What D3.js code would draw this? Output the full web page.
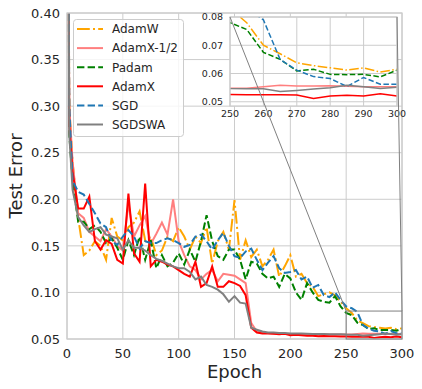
<!DOCTYPE html>
<html>
<head>
<meta charset="utf-8">
<script src="https://cdn.jsdelivr.net/npm/d3@7"></script>
<style>
  body { margin: 0; background: #ffffff; }
  svg text { font-family: "DejaVu Sans", sans-serif; fill: #262626; }
</style>
</head>
<body>
<div id="chart"></div>
<script>
// Epochs at which the test error was sampled
var epochs = [0, 2, 5,
  10, 15, 20, 25, 30, 35, 40, 45,
  50, 55, 60, 65, 70, 75, 80, 85, 90, 95,
  100, 105, 110, 115, 120, 125, 130, 135, 140, 145,
  150, 155, 160, 165, 170, 175, 180, 185, 190, 195,
  200, 205, 210, 215, 220, 225, 230, 235, 240, 245,
  250, 255, 260, 265, 270, 275, 280, 285, 290, 295,
  300];

var adamW = [0.9, 0.3, 0.24,
  0.18, 0.14, 0.145, 0.155, 0.15, 0.135, 0.18, 0.16,
  0.156, 0.17, 0.175, 0.187, 0.156, 0.16, 0.14, 0.145, 0.16, 0.155,
  0.17, 0.16, 0.146, 0.16, 0.153, 0.17, 0.131, 0.155, 0.165, 0.146,
  0.199, 0.135, 0.156, 0.138, 0.146, 0.128, 0.135, 0.146, 0.117, 0.128,
  0.14, 0.117, 0.12, 0.11, 0.106, 0.096, 0.098, 0.1, 0.097, 0.09,
  0.083, 0.078, 0.07, 0.067, 0.0638, 0.0628, 0.062, 0.0612, 0.062, 0.0605,
  0.0615];

var adamXHalf = [0.9, 0.3, 0.24,
  0.185, 0.18, 0.165, 0.16, 0.155, 0.168, 0.16, 0.15,
  0.145, 0.195, 0.16, 0.172, 0.182, 0.152, 0.163, 0.175, 0.162, 0.2,
  0.155, 0.14, 0.128, 0.124, 0.114, 0.12, 0.124, 0.112, 0.12, 0.119,
  0.118, 0.114, 0.11, 0.067, 0.058, 0.057, 0.0565, 0.056, 0.056, 0.0555,
  0.0555, 0.055, 0.055, 0.055, 0.0548, 0.0548, 0.055, 0.0548, 0.0548, 0.0548,
  0.0548, 0.0548, 0.0553, 0.0558, 0.0556, 0.0556, 0.0557, 0.0555, 0.0553, 0.0553,
  0.0553];

var padam = [0.9, 0.27, 0.22,
  0.176, 0.176, 0.168, 0.172, 0.165, 0.153, 0.158, 0.148,
  0.135, 0.156, 0.14, 0.16, 0.135, 0.156, 0.126, 0.14, 0.128, 0.132,
  0.142, 0.13, 0.146, 0.133, 0.155, 0.183, 0.155, 0.139, 0.135, 0.146,
  0.146, 0.135, 0.114, 0.133, 0.131, 0.12, 0.115, 0.117, 0.106, 0.12,
  0.115, 0.1, 0.092, 0.11, 0.1, 0.092, 0.09, 0.089, 0.096, 0.085,
  0.078, 0.0756, 0.0675, 0.065, 0.0609, 0.0615, 0.0597, 0.0596, 0.0597, 0.0588,
  0.0612];

var adamX = [0.85, 0.28, 0.23,
  0.19, 0.19, 0.203, 0.155, 0.146, 0.156, 0.152, 0.135,
  0.131, 0.206, 0.142, 0.133, 0.217, 0.128, 0.135, 0.133, 0.13, 0.128,
  0.124, 0.12, 0.117, 0.133, 0.106, 0.11, 0.128, 0.106, 0.106, 0.112,
  0.11, 0.107, 0.097, 0.062, 0.057, 0.056, 0.056, 0.0555, 0.055, 0.0555,
  0.054, 0.0545, 0.054, 0.0535, 0.0535, 0.053, 0.0532, 0.053, 0.053, 0.0528,
  0.0526, 0.0525, 0.0525, 0.0525, 0.0524, 0.0512, 0.052, 0.0523, 0.052, 0.0528,
  0.052];

var sgd = [0.9, 0.3, 0.22,
  0.208, 0.205, 0.195, 0.185, 0.174, 0.17, 0.155, 0.151,
  0.16, 0.167, 0.16, 0.147, 0.155, 0.153, 0.153, 0.156, 0.158, 0.156,
  0.153, 0.149, 0.151, 0.16, 0.162, 0.155, 0.146, 0.156, 0.164, 0.15,
  0.139, 0.137, 0.144, 0.147, 0.135, 0.124, 0.132, 0.139, 0.126, 0.121,
  0.122, 0.124, 0.114, 0.117, 0.105, 0.108, 0.097, 0.095, 0.1, 0.092,
  0.085, 0.083, 0.079, 0.065, 0.0612, 0.0589, 0.0582, 0.0554, 0.0586, 0.0562,
  0.0562];

var sgdSwa = [0.9, 0.27, 0.21,
  0.181, 0.172, 0.165, 0.168, 0.17, 0.162, 0.16, 0.158,
  0.146, 0.156, 0.148, 0.148, 0.145, 0.14, 0.136, 0.134, 0.131, 0.128,
  0.126, 0.126, 0.122, 0.114, 0.117, 0.108, 0.106, 0.103, 0.098, 0.09,
  0.096, 0.089, 0.088, 0.062, 0.06, 0.058, 0.057, 0.057, 0.0565, 0.0565,
  0.056, 0.056, 0.0558, 0.0556, 0.0555, 0.0553, 0.0553, 0.055, 0.055, 0.055,
  0.0547, 0.0546, 0.0546, 0.0536, 0.054, 0.0545, 0.055, 0.0558, 0.0553, 0.0547,
  0.0551];

var seriesNames = ["AdamW", "AdamX-1/2", "Padam", "AdamX", "SGD", "SGDSWA"];
var xTicks = [0, 50, 100, 150, 200, 250, 300];
var yTicks = [0.05, 0.10, 0.15, 0.20, 0.25, 0.30, 0.35, 0.40];
var insetXTicks = [250, 260, 270, 280, 290, 300];
var insetYTicks = [0.05, 0.06, 0.07, 0.08];

var chart = (function (d3) {
  "use strict";

  var W = 422, H = 389,
      m = { left: 67, right: 402, top: 13, bottom: 339 },
      inset = { left: 230, right: 397, top: 17, bottom: 106 },
      gridColor = "#cccccc",
      svg = null;

  // Style of each series, in legend order
  var styles = [
    { values: adamW, color: "#ffa500", dash: "12.8,3.2,2,3.2", dashIn: "9.6,2.4,1.5,2.4" },
    { values: adamXHalf, color: "#ff7f7f", dash: null, dashIn: null },
    { values: padam, color: "#008000", dash: "7.4,3.2", dashIn: "5.5,2.4" },
    { values: adamX, color: "#ff0000", dash: null, dashIn: null },
    { values: sgd, color: "#1f77b4", dash: "7.4,3.2", dashIn: "5.5,2.4" },
    { values: sgdSwa, color: "#808080", dash: null, dashIn: null }
  ];

  var private_methods = {
    /**
     * drawPanel - grid, frame and lines for one set of axes
     */
    drawPanel: function (g, x, y, box, xt, yt, lw, inner, clipId) {
      var line = d3.line()
            .x(function (d) { return x(d[0]); })
            .y(function (d) { return y(d[1]); });

      // White background
      g.append("rect")
        .attr("x", box.left).attr("y", box.top)
        .attr("width", box.right - box.left)
        .attr("height", box.bottom - box.top)
        .attr("fill", "#ffffff");

      // Grid lines
      g.selectAll(".vg").data(xt).enter().append("line")
        .attr("x1", function (d) { return x(d); })
        .attr("x2", function (d) { return x(d); })
        .attr("y1", box.top).attr("y2", box.bottom)
        .attr("stroke", gridColor).attr("stroke-width", 1);
      g.selectAll(".hg").data(yt).enter().append("line")
        .attr("x1", box.left).attr("x2", box.right)
        .attr("y1", function (d) { return y(d); })
        .attr("y2", function (d) { return y(d); })
        .attr("stroke", gridColor).attr("stroke-width", 1);

      g.append("clipPath").attr("id", clipId)
        .append("rect")
        .attr("x", box.left).attr("y", box.top)
        .attr("width", box.right - box.left)
        .attr("height", box.bottom - box.top);

      // The series
      var lines = g.append("g").attr("clip-path", "url(#" + clipId + ")");
      styles.forEach(function (s) {
        var pts = epochs.map(function (e, i) { return [e, s.values[i]]; });
        lines.append("path")
          .attr("d", line(pts))
          .attr("fill", "none")
          .attr("stroke", s.color)
          .attr("stroke-width", lw)
          .attr("stroke-dasharray", inner ? s.dashIn : s.dash);
      });

      // Frame
      g.append("rect")
        .attr("x", box.left).attr("y", box.top)
        .attr("width", box.right - box.left)
        .attr("height", box.bottom - box.top)
        .attr("fill", "none")
        .attr("stroke", gridColor).attr("stroke-width", 1.25);
    },

    drawLegend: function () {
      var lg = svg.append("g");
      lg.append("rect")
        .attr("x", 73.5).attr("y", 19.5)
        .attr("width", 110).attr("height", 117)
        .attr("rx", 3)
        .attr("fill", "#ffffff").attr("fill-opacity", 0.8)
        .attr("stroke", gridColor).attr("stroke-width", 1);

      styles.forEach(function (s, i) {
        var yy = 29 + i * 19.1;
        lg.append("line")
          .attr("x1", 77).attr("x2", 103)
          .attr("y1", yy).attr("y2", yy)
          .attr("stroke", s.color).attr("stroke-width", 2)
          .attr("stroke-dasharray", s.dash);
        lg.append("text")
          .attr("x", 112).attr("y", yy + 4.3)
          .attr("font-size", "12px")
          .text(seriesNames[i]);
      });
    }
  };

  return {
    draw: function () {
      var x, y, xi, yi, g, gi;

      svg = d3.select("#chart").append("svg")
        .attr("width", W).attr("height", H);
      svg.append("rect").attr("width", W).attr("height", H).attr("fill", "#ffffff");

      x = d3.scaleLinear().domain([0, 300]).range([m.left, m.right]);
      y = d3.scaleLinear().domain([0.05, 0.40]).range([m.bottom, m.top]);

      g = svg.append("g");
      private_methods.drawPanel(g, x, y, m, xTicks, yTicks, 2, false, "clipMain");

      // Tick labels of the main axes
      g.selectAll(".xl").data(xTicks).enter().append("text")
        .attr("x", function (d) { return x(d); })
        .attr("y", m.bottom + 19)
        .attr("text-anchor", "middle")
        .attr("font-size", "13px")
        .text(function (d) { return d; });
      g.selectAll(".yl").data(yTicks).enter().append("text")
        .attr("x", m.left - 7)
        .attr("y", function (d) { return y(d) + 4.7; })
        .attr("text-anchor", "end")
        .attr("font-size", "13px")
        .text(function (d) { return d3.format(".2f")(d); });

      // Axis titles
      svg.append("text")
        .attr("x", (m.left + m.right) / 2).attr("y", 378)
        .attr("text-anchor", "middle")
        .attr("font-size", "18px")
        .text("Epoch");
      svg.append("text")
        .attr("transform", "translate(22," + ((m.top + m.bottom) / 2) + ") rotate(-90)")
        .attr("text-anchor", "middle")
        .attr("font-size", "18px")
        .text("Test Error");

      // Zoomed area marker on the main axes
      xi = d3.scaleLinear().domain([250, 300]).range([inset.left, inset.right]);
      yi = d3.scaleLinear().domain([0.0485, 0.08]).range([inset.bottom, inset.top]);

      svg.append("rect")
        .attr("x", x(250)).attr("y", y(0.08))
        .attr("width", x(300) - x(250))
        .attr("height", m.bottom - y(0.08))
        .attr("fill", "none")
        .attr("stroke", "#808080").attr("stroke-width", 1);

      private_methods.drawLegend();

      // The inset
      gi = svg.append("g");
      private_methods.drawPanel(gi, xi, yi, inset, insetXTicks, insetYTicks, 1.5, true, "clipInset");

      gi.selectAll(".xl").data(insetXTicks).enter().append("text")
        .attr("x", function (d) { return xi(d); })
        .attr("y", inset.bottom + 11)
        .attr("text-anchor", "middle")
        .attr("font-size", "9.5px")
        .text(function (d) { return d; });
      gi.selectAll(".yl").data(insetYTicks).enter().append("text")
        .attr("x", inset.left - 7)
        .attr("y", function (d) { return yi(d) + 3.4; })
        .attr("text-anchor", "end")
        .attr("font-size", "9.5px")
        .text(function (d) { return d3.format(".2f")(d); });

      // Connector lines between the inset and the marker
      svg.append("line")
        .attr("x1", inset.left).attr("y1", inset.top)
        .attr("x2", x(250)).attr("y2", y(0.08))
        .attr("stroke", "#808080").attr("stroke-width", 1);
      svg.append("line")
        .attr("x1", inset.right).attr("y1", inset.top)
        .attr("x2", x(300)).attr("y2", y(0.08))
        .attr("stroke", "#808080").attr("stroke-width", 1);
    }
  };
}(d3));

chart.draw();
</script>
</body>
</html>
